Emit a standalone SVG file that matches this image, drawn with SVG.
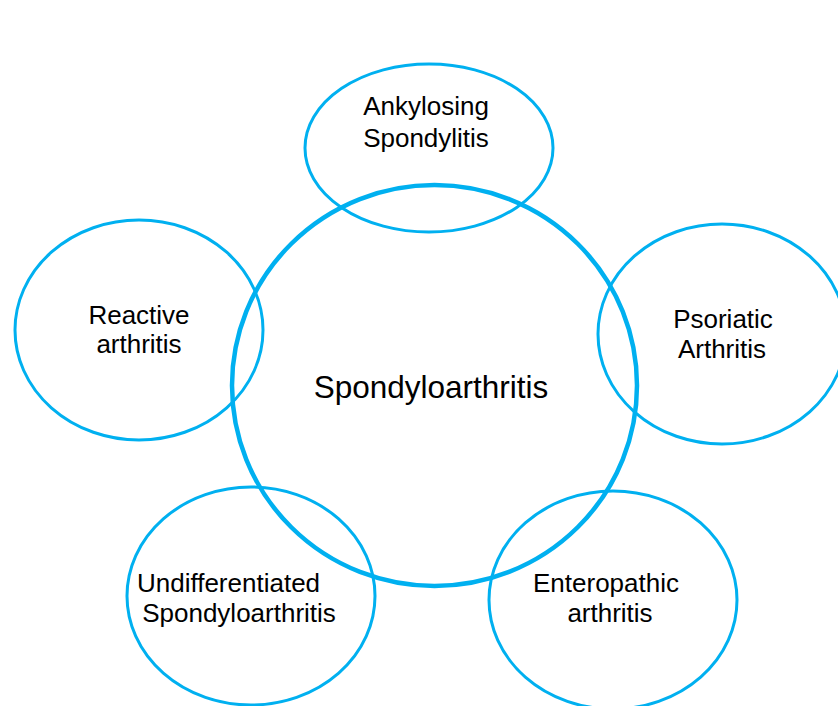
<svg xmlns="http://www.w3.org/2000/svg" width="838" height="706" viewBox="0 0 838 706">
<style>
.sat{fill:none;stroke:#00B0F0;stroke-width:3}
.hub{fill:none;stroke:#00B0F0;stroke-width:4.5}
text{font-family:"Liberation Sans",Arial,sans-serif;fill:#000;text-anchor:middle}
.s{font-size:26px}
.c{font-size:31.5px}
</style>
<rect width="838" height="706" fill="#fff"/>
<g id="connectors"></g>
<g id="node-ankylosing">
<ellipse class="sat" cx="429" cy="148" rx="124" ry="84"/>
<text class="s" x="426" y="115">Ankylosing</text>
<text class="s" x="426" y="147">Spondylitis</text>
</g>
<g id="node-reactive">
<ellipse class="sat" cx="139" cy="330" rx="124" ry="110"/>
<text class="s" x="139" y="324">Reactive</text>
<text class="s" x="139" y="353">arthritis</text>
</g>
<g id="node-psoriatic">
<ellipse class="sat" cx="722" cy="334" rx="124" ry="110"/>
<text class="s" x="723" y="328">Psoriatic</text>
<text class="s" x="722" y="358">Arthritis</text>
</g>
<g id="node-undifferentiated">
<ellipse class="sat" cx="251" cy="596" rx="124" ry="109"/>
<text class="s" x="228.5" y="592">Undifferentiated</text>
<text class="s" x="239" y="622">Spondyloarthritis</text>
</g>
<g id="node-enteropathic">
<ellipse class="sat" cx="613" cy="600" rx="124" ry="109"/>
<text class="s" x="606" y="592">Enteropathic</text>
<text class="s" x="610" y="622">arthritis</text>
</g>
<g id="node-spondyloarthritis">
<ellipse class="hub" cx="434.5" cy="385.5" rx="202.5" ry="200.5"/>
<text class="c" x="431" y="398">Spondyloarthritis</text>
</g>
</svg>
